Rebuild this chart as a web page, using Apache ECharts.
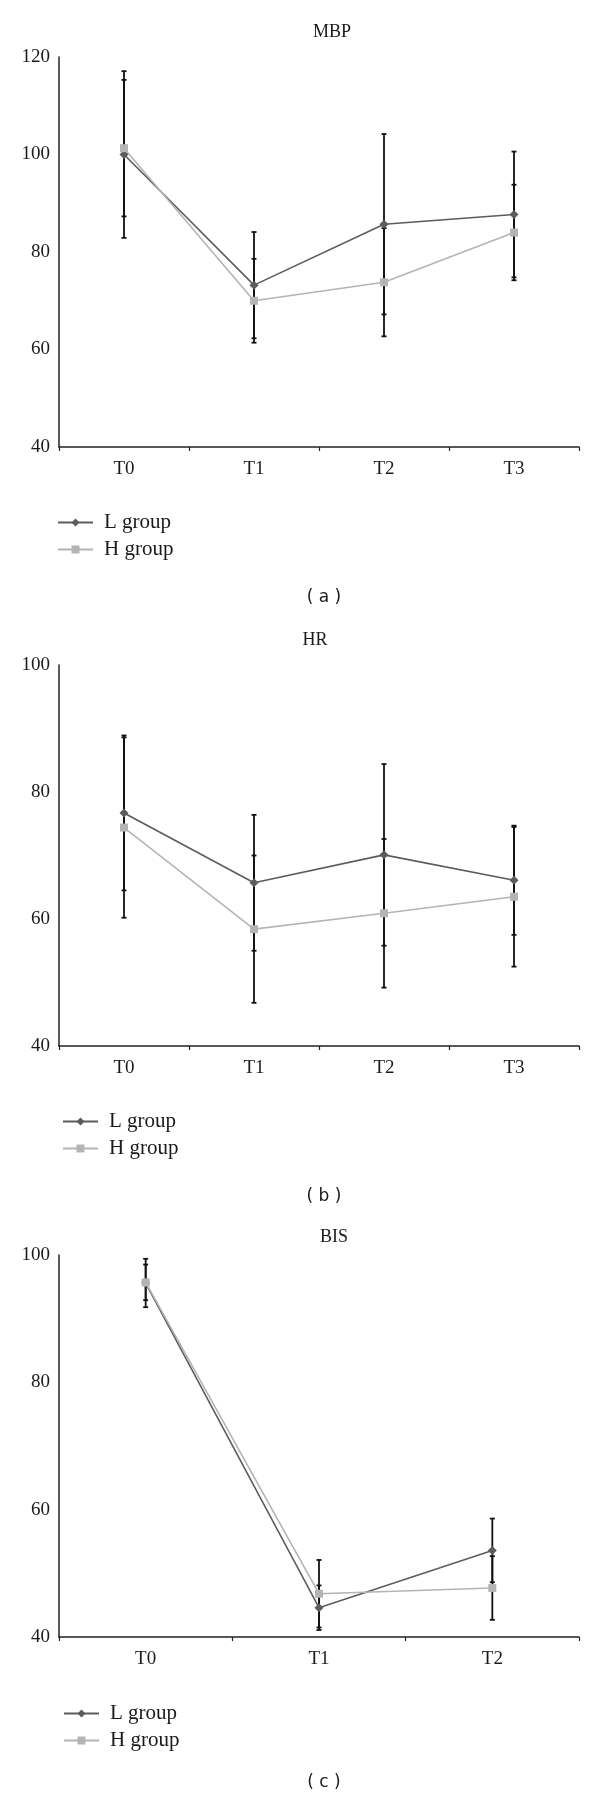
<!DOCTYPE html>
<html>
<head>
<meta charset="utf-8">
<script src="https://cdn.jsdelivr.net/npm/echarts@6/dist/echarts.min.js"></script>
<style>html,body{margin:0;padding:0;background:#fff;}#c{width:600px;height:1799px;}</style>
</head>
<body>
<div id="c"></div>
<script>
// ---- data ----
const catsABC = ['T0', 'T1', 'T2', 'T3'];
const catsBIS = ['T0', 'T1', 'T2'];

const mbpL = [100.0, 73.2, 85.7, 87.7];
const mbpLsd = [17.1, 10.9, 18.5, 12.9];
const mbpH = [101.3, 70.0, 73.8, 84.0];
const mbpHsd = [14.0, 8.6, 11.1, 9.8];

const hrL = [76.7, 65.7, 70.1, 66.1];
const hrLsd = [12.2, 10.7, 14.3, 8.6];
const hrH = [74.4, 58.4, 60.9, 63.5];
const hrHsd = [14.2, 11.6, 11.7, 11.0];

const bisL = [95.6, 44.6, 53.6];
const bisLsd = [3.8, 3.5, 5.0];
const bisH = [95.7, 46.8, 47.7];
const bisHsd = [2.8, 5.3, 5.0];

const yTicksMBP = [40, 60, 80, 100, 120];
const yTicksHR = [40, 60, 80, 100];
const yTicksBIS = [40, 60, 80, 100];

const panelTitles = ['MBP', 'HR', 'BIS'];
const panelTags = ['( a )', '( b )', '( c )'];
const seriesNames = ['L group', 'H group'];

// ---- styling ----
const SERIF = 'Liberation Serif';
const colL = '#5c5c5c';
const colH = '#b4b4b4';
const axisCol = '#222';

const grids = [
  { left: 59, right: 21, top: 57, height: 390 },
  { left: 59, right: 21, top: 665, height: 381 },
  { left: 59, right: 21, top: 1255, height: 382 }
];

function xAx(i, cats) {
  return {
    type: 'category', gridIndex: i, data: cats, boundaryGap: true,
    axisLine: { lineStyle: { color: axisCol, width: 1.5 } },
    axisTick: { show: true, length: 4, lineStyle: { color: axisCol, width: 1.2 } },
    axisLabel: { fontFamily: SERIF, fontSize: 19, color: '#1a1a1a', margin: 13 },
    splitLine: { show: false }
  };
}
function yAx(i, ticks) {
  return {
    type: 'value', gridIndex: i, min: ticks[0], max: ticks[ticks.length - 1], interval: 20,
    axisLine: { show: true, lineStyle: { color: axisCol, width: 1.5 } },
    axisTick: { show: false },
    axisLabel: { fontFamily: SERIF, fontSize: 19, color: '#1a1a1a', margin: 9 },
    splitLine: { show: false }
  };
}

function errSeries(i, means, sds) {
  return {
    type: 'custom', xAxisIndex: i, yAxisIndex: i, z: 1, silent: true,
    data: means.map((m, k) => [k, m, sds[k]]),
    renderItem: function (params, api) {
      const x = api.value(0), m = api.value(1), s = api.value(2);
      const top = api.coord([x, m + s]);
      const bot = api.coord([x, m - s]);
      const w = 2.5;
      const st = { stroke: '#111', lineWidth: 1.8 };
      return {
        type: 'group', children: [
          { type: 'line', shape: { x1: top[0], y1: top[1], x2: bot[0], y2: bot[1] }, style: st },
          { type: 'line', shape: { x1: top[0] - w, y1: top[1], x2: top[0] + w, y2: top[1] }, style: st },
          { type: 'line', shape: { x1: bot[0] - w, y1: bot[1], x2: bot[0] + w, y2: bot[1] }, style: st }
        ]
      };
    }
  };
}
function lineSeries(i, name, vals, color, symbol, size) {
  return {
    type: 'line', name: name, xAxisIndex: i, yAxisIndex: i, z: 3, data: vals,
    symbol: symbol, symbolSize: size, showSymbol: true,
    lineStyle: { color: color, width: 1.6 },
    itemStyle: { color: color },
    emphasis: { disabled: true }, animation: false
  };
}

function legend(top, left) {
  return {
    orient: 'vertical', top: top, left: left, itemWidth: 35, itemHeight: 10, itemGap: 6,
    data: seriesNames, selectedMode: false,
    textStyle: { fontFamily: SERIF, fontSize: 21, color: '#1a1a1a', padding: [0, 0, 0, 6] }
  };
}

function txt(x, y, s, font, size) {
  return {
    type: 'text', x: x, y: y,
    style: { text: s, fontFamily: font, fontSize: size, fill: '#1a1a1a', textAlign: 'center', textVerticalAlign: 'middle' }
  };
}

const option = {
  animation: false,
  backgroundColor: '#fff',
  grid: grids,
  xAxis: [xAx(0, catsABC), xAx(1, catsABC), xAx(2, catsBIS)],
  yAxis: [yAx(0, yTicksMBP), yAx(1, yTicksHR), yAx(2, yTicksBIS)],
  legend: [legend(507, 52), legend(1106, 57), legend(1698, 58)],
  series: [
    errSeries(0, mbpL, mbpLsd), errSeries(0, mbpH, mbpHsd),
    lineSeries(0, seriesNames[0], mbpL, colL, 'diamond', 9),
    lineSeries(0, seriesNames[1], mbpH, colH, 'rect', 8),
    errSeries(1, hrL, hrLsd), errSeries(1, hrH, hrHsd),
    lineSeries(1, seriesNames[0], hrL, colL, 'diamond', 9),
    lineSeries(1, seriesNames[1], hrH, colH, 'rect', 8),
    errSeries(2, bisL, bisLsd), errSeries(2, bisH, bisHsd),
    lineSeries(2, seriesNames[0], bisL, colL, 'diamond', 9),
    lineSeries(2, seriesNames[1], bisH, colH, 'rect', 8)
  ],
  graphic: [
    txt(332, 32, panelTitles[0], SERIF, 18),
    txt(315, 640, panelTitles[1], SERIF, 18),
    txt(334, 1237, panelTitles[2], SERIF, 18),
    txt(324, 598, panelTags[0], 'DejaVu Sans', 17),
    txt(324, 1197, panelTags[1], 'DejaVu Sans', 17),
    txt(324, 1783, panelTags[2], 'DejaVu Sans', 17)
  ]
};

const chart = echarts.init(document.getElementById('c'), null, { renderer: 'canvas' });
chart.setOption(option);
</script>
</body>
</html>
